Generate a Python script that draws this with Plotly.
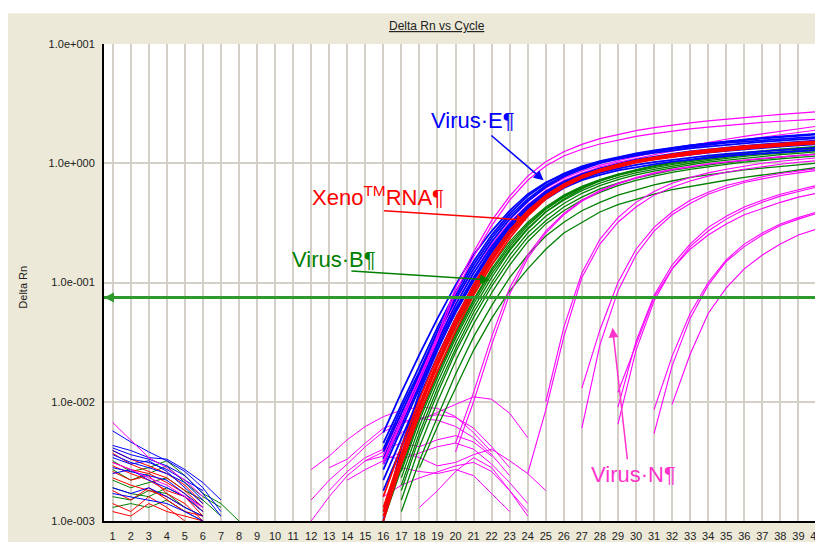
import math
import plotly.graph_objects as go

# ---------------- DATA ----------------
THRESHOLD = 0.075
X_MIN, X_MAX = 0.52, 40.03
x_tick_cycles = list(range(1, 41))
y_tick_values = [0.001, 0.01, 0.1, 1, 10]
y_tick_labels = ["1.0e-003", "1.0e-002", "1.0e-001", "1.0e+000", "1.0e+001"]

# Virus E (blue) amplification curves, cycles 16..40
virus_e_start = [16] * 10
virus_e = [
    [0.003, 0.0065, 0.014, 0.03, 0.06, 0.11, 0.19, 0.3, 0.43, 0.57, 0.7, 0.81, 0.9, 0.98, 1.05, 1.11, 1.16, 1.21, 1.26, 1.3, 1.34, 1.38, 1.41, 1.44, 1.47],
    [0.0045, 0.0095, 0.02, 0.042, 0.083, 0.15, 0.25, 0.38, 0.53, 0.68, 0.82, 0.94, 1.04, 1.13, 1.21, 1.28, 1.35, 1.41, 1.47, 1.52, 1.57, 1.62, 1.66, 1.7, 1.74],
    [0.0055, 0.012, 0.025, 0.05, 0.095, 0.17, 0.27, 0.4, 0.55, 0.69, 0.81, 0.92, 1.01, 1.09, 1.16, 1.22, 1.28, 1.33, 1.38, 1.43, 1.47, 1.51, 1.55, 1.58, 1.62],
    [0.0022, 0.005, 0.011, 0.024, 0.05, 0.095, 0.17, 0.27, 0.39, 0.52, 0.64, 0.74, 0.83, 0.9, 0.97, 1.02, 1.07, 1.12, 1.16, 1.2, 1.23, 1.26, 1.29, 1.32, 1.35],
    [0.001, 0.0042, 0.012, 0.027, 0.057, 0.105, 0.185, 0.29, 0.42, 0.56, 0.69, 0.8, 0.9, 0.99, 1.07, 1.14, 1.2, 1.26, 1.31, 1.36, 1.4, 1.44, 1.48, 1.52, 1.55],
    [0.0038, 0.008, 0.017, 0.036, 0.072, 0.13, 0.22, 0.34, 0.48, 0.63, 0.77, 0.89, 1.0, 1.1, 1.19, 1.27, 1.34, 1.41, 1.47, 1.53, 1.58, 1.63, 1.68, 1.72, 1.77],
    [0.0033, 0.0072, 0.015, 0.032, 0.065, 0.12, 0.2, 0.31, 0.44, 0.58, 0.7, 0.8, 0.89, 0.96, 1.03, 1.09, 1.14, 1.19, 1.23, 1.27, 1.31, 1.35, 1.38, 1.41, 1.44],
    [0.0018, 0.0042, 0.0095, 0.021, 0.045, 0.088, 0.16, 0.26, 0.38, 0.5, 0.62, 0.72, 0.8, 0.87, 0.93, 0.98, 1.03, 1.07, 1.11, 1.15, 1.18, 1.21, 1.24, 1.27, 1.29],
    [0.004, 0.0088, 0.018, 0.039, 0.077, 0.14, 0.235, 0.36, 0.5, 0.65, 0.79, 0.91, 1.02, 1.11, 1.19, 1.26, 1.32, 1.38, 1.43, 1.48, 1.52, 1.56, 1.6, 1.63, 1.66],
    [0.0027, 0.006, 0.013, 0.028, 0.056, 0.104, 0.18, 0.285, 0.41, 0.55, 0.68, 0.79, 0.88, 0.96, 1.03, 1.1, 1.16, 1.22, 1.27, 1.32, 1.37, 1.41, 1.45, 1.49, 1.52],
]

# Xeno RNA (red), cycles 16..40
xeno_start = [16] * 5
xeno = [
    [0.0012, 0.0035, 0.009, 0.021, 0.045, 0.088, 0.155, 0.255, 0.38, 0.52, 0.65, 0.77, 0.87, 0.95, 1.03, 1.1, 1.16, 1.21, 1.26, 1.31, 1.35, 1.39, 1.43, 1.46, 1.49],
    [0.001, 0.003, 0.0078, 0.018, 0.039, 0.078, 0.14, 0.235, 0.36, 0.5, 0.63, 0.75, 0.85, 0.93, 1.01, 1.07, 1.13, 1.18, 1.23, 1.28, 1.32, 1.36, 1.4, 1.43, 1.46],
    [0.0016, 0.0042, 0.0105, 0.024, 0.05, 0.096, 0.17, 0.275, 0.4, 0.54, 0.67, 0.79, 0.89, 0.98, 1.06, 1.13, 1.19, 1.25, 1.3, 1.35, 1.39, 1.43, 1.47, 1.5, 1.53],
    [0.0011, 0.0033, 0.0085, 0.02, 0.043, 0.084, 0.15, 0.25, 0.37, 0.51, 0.64, 0.76, 0.86, 0.94, 1.02, 1.08, 1.14, 1.19, 1.24, 1.29, 1.33, 1.37, 1.41, 1.44, 1.47],
    [0.0013, 0.0037, 0.0095, 0.022, 0.047, 0.09, 0.16, 0.26, 0.39, 0.53, 0.66, 0.78, 0.88, 0.97, 1.05, 1.12, 1.18, 1.23, 1.28, 1.33, 1.37, 1.41, 1.45, 1.48, 1.51],
]

# Virus B (green)
virus_b_start = [16, 17, 17, 16, 17, 17, 18, 17, 17, 16]
virus_b = [
    [0.001, 0.0028, 0.0075, 0.017, 0.036, 0.07, 0.125, 0.2, 0.3, 0.41, 0.52, 0.62, 0.71, 0.79, 0.86, 0.92, 0.98, 1.03, 1.08, 1.13, 1.17, 1.21, 1.25, 1.29, 1.32],
    [0.0023, 0.0062, 0.0145, 0.031, 0.061, 0.11, 0.185, 0.28, 0.39, 0.5, 0.61, 0.71, 0.8, 0.88, 0.95, 1.01, 1.07, 1.13, 1.18, 1.23, 1.27, 1.31, 1.35, 1.38],
    [0.002, 0.0055, 0.013, 0.028, 0.056, 0.1, 0.17, 0.26, 0.36, 0.46, 0.56, 0.65, 0.73, 0.8, 0.86, 0.92, 0.97, 1.02, 1.06, 1.1, 1.14, 1.18, 1.21, 1.25],
    [0.001, 0.003, 0.0078, 0.018, 0.038, 0.072, 0.13, 0.21, 0.31, 0.42, 0.53, 0.63, 0.72, 0.8, 0.87, 0.94, 1.0, 1.06, 1.11, 1.16, 1.21, 1.25, 1.29, 1.32, 1.35],
    [0.0015, 0.0042, 0.01, 0.022, 0.045, 0.082, 0.14, 0.22, 0.31, 0.4, 0.49, 0.57, 0.65, 0.72, 0.78, 0.84, 0.89, 0.94, 0.98, 1.02, 1.06, 1.09, 1.12, 1.15],
    [0.0012, 0.0032, 0.0075, 0.017, 0.035, 0.064, 0.11, 0.17, 0.245, 0.32, 0.4, 0.47, 0.54, 0.6, 0.66, 0.71, 0.76, 0.8, 0.84, 0.88, 0.91, 0.94, 0.97, 1.0],
    [0.0028, 0.0062, 0.013, 0.027, 0.05, 0.085, 0.13, 0.19, 0.26, 0.32, 0.39, 0.45, 0.5, 0.55, 0.6, 0.64, 0.68, 0.72, 0.76, 0.8, 0.84, 0.88, 0.92],
    [0.0026, 0.007, 0.016, 0.034, 0.066, 0.118, 0.19, 0.285, 0.39, 0.49, 0.59, 0.68, 0.76, 0.83, 0.89, 0.95, 1.0, 1.05, 1.1, 1.14, 1.18, 1.21, 1.25, 1.28],
    [0.0018, 0.005, 0.0118, 0.026, 0.051, 0.093, 0.155, 0.24, 0.33, 0.43, 0.52, 0.61, 0.68, 0.75, 0.81, 0.87, 0.92, 0.97, 1.01, 1.05, 1.09, 1.13, 1.16, 1.2],
    [0.0012, 0.0034, 0.0088, 0.02, 0.042, 0.08, 0.14, 0.22, 0.32, 0.43, 0.54, 0.64, 0.73, 0.81, 0.88, 0.95, 1.01, 1.07, 1.12, 1.17, 1.22, 1.26, 1.3, 1.34, 1.37],
]

# Virus N (magenta): two early wells drawn above the main band
virus_n_top_start = [16, 16]
virus_n_top = [
    [0.0032, 0.0072, 0.016, 0.036, 0.09, 0.18, 0.33, 0.53, 0.78, 1.03, 1.25, 1.44, 1.61, 1.75, 1.88, 1.99, 2.09, 2.18, 2.27, 2.35, 2.43, 2.5, 2.57, 2.63, 2.7],
    [0.003, 0.0066, 0.015, 0.033, 0.082, 0.165, 0.3, 0.49, 0.72, 0.95, 1.15, 1.31, 1.45, 1.57, 1.68, 1.77, 1.86, 1.94, 2.01, 2.08, 2.14, 2.2, 2.25, 2.3, 2.34],
]
# Virus N wells hidden inside the band that emerge late
virus_n_band_start = [16, 16]
virus_n_band = [
    [0.0036, 0.0078, 0.017, 0.035, 0.07, 0.13, 0.22, 0.34, 0.48, 0.62, 0.75, 0.86, 0.96, 1.05, 1.14, 1.23, 1.32, 1.41, 1.5, 1.59, 1.68, 1.77, 1.86, 1.95, 2.04],
    [0.0034, 0.0074, 0.016, 0.033, 0.066, 0.12, 0.21, 0.32, 0.45, 0.59, 0.72, 0.83, 0.93, 1.02, 1.1, 1.18, 1.26, 1.34, 1.42, 1.5, 1.58, 1.66, 1.74, 1.82, 1.9],
]
# Virus N late wells
virus_n_start = [20, 20, 24, 25, 27, 27, 29, 29, 29, 31, 31, 32]
virus_n = [
    [0.0045, 0.012, 0.035, 0.09, 0.17, 0.27, 0.38, 0.49, 0.59, 0.68, 0.76, 0.83, 0.89, 0.94, 0.99, 1.03, 1.07, 1.1, 1.13, 1.16, 1.19],
    [0.0038, 0.01, 0.03, 0.08, 0.16, 0.26, 0.37, 0.48, 0.58, 0.67, 0.75, 0.82, 0.88, 0.93, 0.98, 1.02, 1.06, 1.1, 1.13, 1.16, 1.19],
    [0.0025, 0.0085, 0.035, 0.11, 0.21, 0.32, 0.43, 0.54, 0.63, 0.71, 0.78, 0.84, 0.89, 0.94, 0.98, 1.02, 1.05],
    [0.01, 0.042, 0.12, 0.23, 0.35, 0.47, 0.58, 0.68, 0.76, 0.83, 0.89, 0.95, 1.0, 1.04, 1.08, 1.11],
    [0.006, 0.03, 0.085, 0.17, 0.27, 0.37, 0.46, 0.55, 0.62, 0.69, 0.74, 0.79, 0.83, 0.87],
    [0.013, 0.04, 0.1, 0.19, 0.29, 0.39, 0.49, 0.57, 0.65, 0.71, 0.77, 0.82, 0.86, 0.9],
    [0.0065, 0.027, 0.07, 0.13, 0.2, 0.27, 0.34, 0.41, 0.47, 0.53, 0.58, 0.63],
    [0.009, 0.032, 0.078, 0.14, 0.21, 0.29, 0.36, 0.43, 0.49, 0.55, 0.6, 0.65],
    [0.012, 0.03, 0.075, 0.13, 0.19, 0.25, 0.31, 0.37, 0.42, 0.47, 0.52, 0.56],
    [0.0054, 0.02, 0.05, 0.095, 0.15, 0.2, 0.25, 0.3, 0.34, 0.38],
    [0.0086, 0.024, 0.055, 0.1, 0.155, 0.21, 0.26, 0.31, 0.35, 0.39],
    [0.0095, 0.025, 0.055, 0.09, 0.13, 0.17, 0.21, 0.25, 0.28],
]

# Magenta non-amplifying (negative) wells, low-level drift
negative_start = [12, 12, 12, 13, 13, 14, 15, 16, 17, 18]
negative = [
    [0.0027, 0.0035, 0.0048, 0.0062, 0.0075, 0.0085, 0.009, 0.0088, 0.0075, 0.0055, 0.0038],
    [0.0015, 0.0022, 0.003, 0.0042, 0.0056, 0.0066, 0.0072, 0.007, 0.0062, 0.005, 0.0036, 0.0024],
    [0.001, 0.0016, 0.0024, 0.0032, 0.0038, 0.0055, 0.007, 0.0082, 0.0095, 0.011, 0.0105, 0.008, 0.005],
    [0.0018, 0.0026, 0.0034, 0.004, 0.0045, 0.0042, 0.0048, 0.0052, 0.0046, 0.0035],
    [0.0028, 0.0033, 0.0045, 0.006, 0.0068, 0.0073, 0.0078, 0.0074, 0.006, 0.0042, 0.0028],
    [0.0022, 0.0027, 0.0032, 0.0038, 0.0034, 0.0029, 0.0031, 0.0036, 0.004, 0.0032, 0.0025, 0.0018],
    [0.0032, 0.0035, 0.0033, 0.0037, 0.0042, 0.0045, 0.004, 0.003, 0.0021, 0.0014],
    [0.0016, 0.002, 0.0023, 0.0026, 0.0029, 0.0031, 0.0026, 0.0018, 0.0012],
    [0.0028, 0.0026, 0.0025, 0.0027, 0.0024, 0.0017, 0.0012],
    [0.0013, 0.0018, 0.0026, 0.0034, 0.0028, 0.0018, 0.0011],
]

# Early-cycle baseline noise (all start at cycle 1)
early_blue = [
    [0.0057, 0.0046, 0.0038, 0.0032, 0.0026, 0.0019, 0.0012],
    [0.0043, 0.0039, 0.0034, 0.0033, 0.0027, 0.0021, 0.0015],
    [0.0041, 0.0036, 0.0033, 0.0029, 0.0024, 0.0017, 0.0011],
    [0.0039, 0.0033, 0.0031, 0.0027, 0.0022, 0.0018],
    [0.0036, 0.0031, 0.0028, 0.0025, 0.0021, 0.0015],
    [0.0034, 0.003, 0.0032, 0.0026, 0.0019, 0.0014],
    [0.0028, 0.0026, 0.0024, 0.0022, 0.0017, 0.0013],
    [0.0025, 0.0027, 0.0022, 0.0019, 0.0016, 0.0012],
    [0.0019, 0.0017, 0.0019, 0.0016, 0.0013, 0.0011],
    [0.0017, 0.0016, 0.0015, 0.0014, 0.0012, 0.001],
]
early_red = [
    [0.0039, 0.0033, 0.0029, 0.0025, 0.002, 0.0014],
    [0.0037, 0.003, 0.0026, 0.0023, 0.0018, 0.0013],
    [0.0031, 0.0027, 0.0025, 0.0021, 0.0017, 0.0012],
    [0.0029, 0.0025, 0.0022, 0.0018, 0.0016, 0.0011],
    [0.0026, 0.0022, 0.0024, 0.0017, 0.0014, 0.001],
    [0.0023, 0.002, 0.0018, 0.0016, 0.0013],
    [0.0018, 0.0015, 0.0019, 0.0015, 0.0012, 0.0011],
    [0.0014, 0.0012, 0.0016, 0.0013, 0.001],
    [0.0012, 0.0011, 0.0014, 0.0012, 0.0011, 0.001],
]
early_green = [
    [0.0032, 0.0026, 0.0028, 0.0032, 0.0024, 0.0017, 0.0014, 0.001],
    [0.0027, 0.0022, 0.0025, 0.0029, 0.0021, 0.0016, 0.0013],
    [0.0022, 0.0019, 0.0021, 0.0023, 0.0018, 0.0015, 0.0011],
    [0.0019, 0.0017, 0.0016, 0.0019, 0.0016, 0.0012],
    [0.0016, 0.0015, 0.0018, 0.0017, 0.0013, 0.0011],
    [0.0013, 0.0014, 0.0013, 0.0015, 0.0012, 0.001],
]
early_magenta = [
    [0.0067, 0.0048, 0.0034, 0.0028, 0.0022, 0.0016],
    [0.0031, 0.0027, 0.0023, 0.002, 0.0016, 0.0013],
]

# Annotation anchor points (cycle, Delta Rn)
label_e = (20.96, 2.29); arrow_e_tail = (21.9, 1.75); arrow_e_tip = (24.88, 0.72)
label_x = (15.7, 0.53); arrow_x_tail = (15.96, 0.40); arrow_x_tip = (23.93, 0.333)
label_b = (13.28, 0.155); arrow_b_tail = (14.15, 0.125); arrow_b_tip = (21.9, 0.105)
label_n = (29.87, 0.00245); arrow_n_tail = (29.53, 0.0032); arrow_n_tip = (28.7, 0.0417)

# ---------------- STYLE ----------------
BEIGE = "#ECE9D8"
GRID = "#D4D0C8"
BLUE = "#0000FF"
RED = "#FF0000"
GREEN = "#008000"
MAGENTA = "#FF00FF"
N_TEXT = "#FF33CC"
THRESH_COLOR = "#2E9A2E"
FONT = "Arial, Liberation Sans, sans-serif"

FIG_W, FIG_H = 815, 534          # page body adds an 8 px offset
M_L, M_T, M_B = 96, 36, 19
PW, PH = FIG_W - M_L, FIG_H - M_T - M_B


def group_xy(curves, starts):
    xs, ys = [], []
    for s, vals in zip(starts, curves):
        xs += list(range(s, s + len(vals))) + [None]
        ys += list(vals) + [None]
    return xs, ys


fig = go.Figure()


def add_group(curves, starts, color, width):
    xs, ys = group_xy(curves, starts)
    fig.add_trace(go.Scatter(x=xs, y=ys, mode="lines", line=dict(color=color, width=width),
                             connectgaps=False, showlegend=False, hoverinfo="skip"))


add_group(early_green, [1] * len(early_green), GREEN, 1)
add_group(early_red, [1] * len(early_red), RED, 1)
add_group(early_blue, [1] * len(early_blue), BLUE, 1)
add_group(early_magenta, [1] * len(early_magenta), MAGENTA, 1)
add_group(negative, negative_start, MAGENTA, 1)
add_group(virus_n_band, virus_n_band_start, MAGENTA, 1.1)
add_group(virus_b, virus_b_start, GREEN, 1.3)
add_group(virus_e, virus_e_start, BLUE, 1.8)
add_group(xeno, xeno_start, RED, 1.7)
add_group(virus_n, virus_n_start, MAGENTA, 1.1)
add_group(virus_n_top, virus_n_top_start, MAGENTA, 1.2)

L = math.log10

shapes = [
    dict(type="line", xref="paper", x0=0, x1=1, yref="y", y0=THRESHOLD, y1=THRESHOLD,
         line=dict(color=THRESH_COLOR, width=3), layer="above"),
    # white strip above the beige frame
    dict(type="rect", xref="paper", yref="paper", x0=-0.2, x1=1.1, y0=1 + (M_T - 5) / PH, y1=1.2,
         fillcolor="white", line=dict(width=0), layer="above"),
]

ann = []


def text_ann(pos, text, color):
    ann.append(dict(x=pos[0], y=L(pos[1]), xref="x", yref="y", text=text, showarrow=False,
                    font=dict(family=FONT, size=22, color=color), xanchor="center", yanchor="middle"))


def arrow_ann(tail, tip, color):
    ann.append(dict(x=tip[0], y=L(tip[1]), xref="x", yref="y", ax=tail[0], ay=L(tail[1]),
                    axref="x", ayref="y", text="", showarrow=True, arrowhead=2, arrowsize=1.3,
                    arrowwidth=1.5, arrowcolor=color))


text_ann(label_e, "Virus·E¶", BLUE)
arrow_ann(arrow_e_tail, arrow_e_tip, BLUE)
text_ann(label_x, "Xeno<sup>TM</sup>RNA¶", RED)
arrow_ann(arrow_x_tail, arrow_x_tip, RED)
text_ann(label_b, "Virus·B¶", GREEN)
arrow_ann(arrow_b_tail, arrow_b_tip, GREEN)
text_ann(label_n, "Virus·N¶", N_TEXT)
arrow_ann(arrow_n_tail, arrow_n_tip, N_TEXT)

# threshold arrow marker at left edge
ty = L(THRESHOLD)
ann.append(dict(x=X_MIN, y=ty, xref="x", yref="y", ax=X_MIN + 0.45, ay=ty, axref="x", ayref="y",
                text="", showarrow=True, arrowhead=2, arrowsize=1, arrowwidth=2, arrowcolor=THRESH_COLOR))

# title and y-axis title
ann.append(dict(x=(432 - M_L) / PW, y=1 + (M_T - 18) / PH, xref="paper", yref="paper",
                text="<u>Delta Rn vs Cycle</u>", showarrow=False,
                font=dict(family=FONT, size=12, color="#222"), xanchor="center", yanchor="middle"))
ann.append(dict(x=(14 - M_L) / PW, y=(FIG_H - M_B - 280) / PH, xref="paper", yref="paper",
                text="Delta Rn", textangle=-90, showarrow=False,
                font=dict(family=FONT, size=11, color="#222"), xanchor="center", yanchor="middle"))

fig.update_layout(
    width=FIG_W, height=FIG_H,
    margin=dict(l=M_L, r=0, t=M_T, b=M_B),
    paper_bgcolor=BEIGE, plot_bgcolor="white",
    shapes=shapes, annotations=ann,
    showlegend=False,
    xaxis=dict(range=[X_MIN, X_MAX], tickmode="array", tickvals=x_tick_cycles,
               ticktext=[str(c) for c in x_tick_cycles],
               showgrid=True, gridcolor=GRID, gridwidth=2, zeroline=False,
               showline=True, linecolor="black", linewidth=2,
               ticks="outside", ticklen=4, tickcolor="rgba(0,0,0,0)",
               ticklabeloverflow="allow",
               tickfont=dict(family=FONT, size=11, color="#222")),
    yaxis=dict(type="log", range=[-3, 1], tickmode="array", tickvals=y_tick_values,
               ticktext=y_tick_labels,
               showgrid=True, gridcolor=GRID, gridwidth=2, zeroline=False,
               showline=True, linecolor="black", linewidth=2,
               ticks="outside", ticklen=5, tickcolor="rgba(0,0,0,0)",
               tickfont=dict(family=FONT, size=11, color="#222")),
)

fig.write_html("out.html")
